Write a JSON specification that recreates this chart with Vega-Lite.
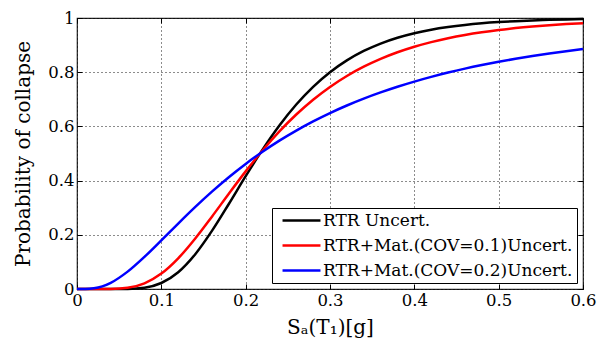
{
  "$schema": "https://vega.github.io/schema/vega-lite/v6.json",
  "width": 506,
  "height": 271,
  "autosize": {"type": "none"},
  "padding": {"left": 77, "top": 18, "right": 14, "bottom": 59},
  "config": {
    "font": "DejaVu Serif",
    "view": {"stroke": "#222222", "strokeWidth": 1.2},
    "axis": {
      "domain": false,
      "gridColor": "black",
      "gridDash": [1, 3],
      "gridWidth": 1,
      "gridOpacity": 0.9,
      "tickSize": -5,
      "tickColor": "black",
      "tickWidth": 1,
      "labelFlush": false,
      "labelFont": "DejaVu Serif",
      "titleFont": "DejaVu Serif",
      "labelFontSize": 16.5,
      "labelColor": "black",
      "labelPadding": 8,
      "titleFontSize": 20,
      "titleFontWeight": "normal",
      "titleColor": "black"
    },
    "legend": {
      "labelFontSize": 17,
      "labelColor": "black",
      "labelFont": "DejaVu Serif",
      "labelLimit": 400
    }
  },
  "data": {
    "values": [
      {"x": 0.0, "s1": 0, "s2": 0, "s3": 0},
      {"x": 0.01, "s1": 0, "s2": 0, "s3": 0.0001},
      {"x": 0.02, "s1": 0, "s2": 0, "s3": 0.0024},
      {"x": 0.03, "s1": 0, "s2": 0, "s3": 0.0096},
      {"x": 0.04, "s1": 0, "s2": 0.0003, "s3": 0.0227},
      {"x": 0.06, "s1": 0.0004, "s2": 0.0044, "s3": 0.0641},
      {"x": 0.08, "s1": 0.0048, "s2": 0.0209, "s3": 0.1188},
      {"x": 0.10, "s1": 0.0221, "s2": 0.0569, "s3": 0.1796},
      {"x": 0.12, "s1": 0.0619, "s2": 0.1133, "s3": 0.2416},
      {"x": 0.14, "s1": 0.1275, "s2": 0.1856, "s3": 0.3020},
      {"x": 0.16, "s1": 0.2144, "s2": 0.2670, "s3": 0.3592},
      {"x": 0.18, "s1": 0.3137, "s2": 0.3515, "s3": 0.4125},
      {"x": 0.20, "s1": 0.4162, "s2": 0.4340, "s3": 0.4616},
      {"x": 0.22, "s1": 0.5143, "s2": 0.5112, "s3": 0.5065},
      {"x": 0.24, "s1": 0.6033, "s2": 0.5815, "s3": 0.5475},
      {"x": 0.26, "s1": 0.6807, "s2": 0.6439, "s3": 0.5847},
      {"x": 0.28, "s1": 0.7461, "s2": 0.6985, "s3": 0.6186},
      {"x": 0.30, "s1": 0.7999, "s2": 0.7457, "s3": 0.6493},
      {"x": 0.32, "s1": 0.8435, "s2": 0.7861, "s3": 0.6772},
      {"x": 0.34, "s1": 0.8783, "s2": 0.8203, "s3": 0.7025},
      {"x": 0.36, "s1": 0.9057, "s2": 0.8492, "s3": 0.7254},
      {"x": 0.38, "s1": 0.9272, "s2": 0.8736, "s3": 0.7464},
      {"x": 0.40, "s1": 0.9439, "s2": 0.8940, "s3": 0.7654},
      {"x": 0.42, "s1": 0.9569, "s2": 0.9111, "s3": 0.7827},
      {"x": 0.44, "s1": 0.9668, "s2": 0.9254, "s3": 0.7986},
      {"x": 0.46, "s1": 0.9745, "s2": 0.9374, "s3": 0.8131},
      {"x": 0.48, "s1": 0.9804, "s2": 0.9474, "s3": 0.8263},
      {"x": 0.50, "s1": 0.9849, "s2": 0.9558, "s3": 0.8384},
      {"x": 0.52, "s1": 0.9884, "s2": 0.9628, "s3": 0.8495},
      {"x": 0.54, "s1": 0.9911, "s2": 0.9686, "s3": 0.8597},
      {"x": 0.56, "s1": 0.9931, "s2": 0.9735, "s3": 0.8691},
      {"x": 0.58, "s1": 0.9947, "s2": 0.9776, "s3": 0.8777},
      {"x": 0.60, "s1": 0.9959, "s2": 0.9810, "s3": 0.8856}
    ]
  },
  "transform": [{"fold": ["s1", "s2", "s3"], "as": ["series", "p"]}],
  "layer": [
    {
      "mark": {"type": "line", "strokeWidth": 2.5, "interpolate": "monotone"},
      "encoding": {
        "x": {
          "field": "x", "type": "quantitative",
          "scale": {"domain": [0, 0.6], "nice": false},
          "axis": {"values": [0, 0.1, 0.2, 0.3, 0.4, 0.5, 0.6], "format": "~g", "title": "Sₐ(T₁)[g]", "titleY": 38, "titleBaseline": "middle"}
        },
        "y": {
          "field": "p", "type": "quantitative",
          "scale": {"domain": [0, 1], "nice": false},
          "axis": {"values": [0, 0.2, 0.4, 0.6, 0.8, 1], "format": "~g", "title": "Probability of collapse", "titleX": -54, "titleBaseline": "middle"}
        },
        "color": {
          "field": "series", "type": "nominal",
          "scale": {"domain": ["s1", "s2", "s3"], "range": ["#000000", "#ff0000", "#0000ff"]},
          "legend": {
            "title": null,
            "orient": "bottom-right",
            "offset": 6,
            "padding": 4,
            "symbolOffset": 17,
            "labelOffset": 13,
            "rowPadding": 7,
            "symbolType": "M-3,0H3",
            "symbolSize": 160,
            "symbolStrokeWidth": 2.5,
            "strokeColor": "black",
            "fillColor": "white",
            "labelLimit": 400,
            "labelExpr": "datum.label == 's1' ? 'RTR Uncert.' : datum.label == 's2' ? 'RTR+Mat.(COV=0.1)Uncert.' : 'RTR+Mat.(COV=0.2)Uncert.'"
          }
        }
      }
    },
    {
      "mark": {"type": "line", "opacity": 0},
      "encoding": {
        "x": {"field": "x", "type": "quantitative", "scale": {"domain": [0, 0.6], "nice": false}, "axis": {"orient": "top", "values": [0, 0.1, 0.2, 0.3, 0.4, 0.5, 0.6], "labels": false, "grid": false, "title": null}},
        "y": {"field": "p", "type": "quantitative", "scale": {"domain": [0, 1], "nice": false}, "axis": {"orient": "right", "values": [0, 0.2, 0.4, 0.6, 0.8, 1], "labels": false, "grid": false, "title": null}},
        "detail": {"field": "series"}
      }
    }
  ],
  "resolve": {"axis": {"x": "independent", "y": "independent"}}
}
